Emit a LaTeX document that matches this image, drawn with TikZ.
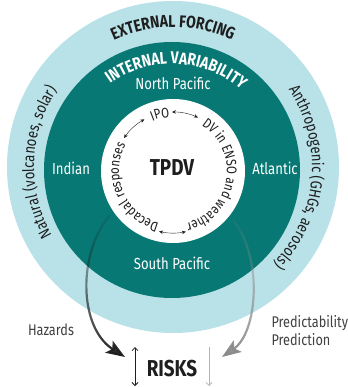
\documentclass[tikz,border=0pt]{standalone}
\usepackage{fontspec}
\setmainfont{Fira Sans}[FakeStretch=0.82]
\usetikzlibrary{arrows.meta, positioning, decorations.text, fadings}

\definecolor{ringblue}{HTML}{B9E1E8}
\definecolor{varteal}{HTML}{077873}
\definecolor{inkblack}{HTML}{1E1E1E}
\definecolor{predgray}{HTML}{8A8A8A}
\definecolor{palegray}{HTML}{B4B4B4}

\newcommand\forcefont{\fontsize{17}{20}\selectfont\bfseries}
\newcommand\sidefont{\fontsize{16}{19}\selectfont}
\newcommand\corefont{\fontsize{14}{16}\selectfont}

\tikzfading[name=fade in down, top color=transparent!90, middle color=transparent!25, bottom color=transparent!0]

\tikzstyle{ring} = [circle, inner sep=0pt, minimum size=#1]
\tikzstyle{region} = [text=white, font=\fontsize{16}{19}\selectfont]
\tikzstyle{sidelabel} = [text=inkblack!85, font=\fontsize{15.5}{18}\selectfont]
\tikzstyle{twoway} = [thin, inkblack, {Stealth[length=4pt, width=3.5pt]}-{Stealth[length=4pt, width=3.5pt]}]
\tikzstyle{bigarrow} = [line width=2.2pt, -{Stealth[length=19pt, width=14pt, inset=4pt]}, path fading=fade in down]
\tikzset{arctext/.style={decorate, decoration={text along path, text align=center, text color=inkblack, text={#1}}}}

\begin{document}
\begin{tikzpicture}[x=1pt, y=1pt]
        \useasboundingbox (-173,-220) rectangle (174,167);

        % --- anillos ---
        \node (outer) [ring=332pt, fill=ringblue] at (0,0) {};
        \node (mid) [ring=256pt, fill=varteal] at (-1,-3) {};
        \node (core) [ring=144pt, fill=white] at (0,-4) {};

        % --- textos curvos ---
        \path [arctext={|\forcefont|EXTERNAL FORCING}] (outer.center) ++(150:140pt) arc[start angle=150, end angle=30, radius=140pt];
        \path [arctext={|\sidefont|Natural (volcanoes, solar)}] (outer.center) ++(222:139pt) arc[start angle=222, end angle=134, radius=139pt];
        \path [arctext={|\sidefont|Anthropogenic (GHGs, aerosols)}] (outer.center) ++(50:139pt) arc[start angle=50, end angle=-60, radius=139pt];
        \path [arctext={|\forcefont|INTERNAL VARIABILITY}, decoration={text color=white}] (mid.center) ++(155:106pt) arc[start angle=155, end angle=20, radius=106pt];

        \path [arctext={|\corefont|IPO}] (core.center) ++(125:54pt) arc[start angle=125, end angle=81, radius=54pt];
        \path [arctext={|\corefont|DV in ENSO and weather}] (core.center) ++(80:54pt) arc[start angle=80, end angle=-98, radius=54pt];
        \path [arctext={|\corefont|Decadal responses}] (core.center) ++(266:54pt) arc[start angle=266, end angle=140, radius=54pt];

        % --- flechas del ciclo ---
        \draw [twoway] (core.center) ++(91:59pt) arc[start angle=91, end angle=65, radius=59pt];
        \draw [twoway] (core.center) ++(146:59pt) arc[start angle=146, end angle=119, radius=59pt];
        \draw [twoway] (core.center) ++(-103:62pt) arc[start angle=-103, end angle=-78, radius=62pt];

        % --- etiquetas ---
        \node (tpdv) [text=inkblack, font=\fontsize{23}{26}\selectfont\bfseries] at (-1,-1) {TPDV};
        \node (north) [region] at (0,84) {North Pacific};
        \node (south) [region] at (-1,-96) {South Pacific};
        \node (indian) [region] at (-102,-1) {Indian};
        \node (atlantic) [region] at (102,-1) {Atlantic};

        \node (risks) [text=inkblack, font=\fontsize{23}{26}\selectfont\bfseries] at (-1,-202) {RISKS};
        \node (hazards) [sidelabel] at (-122,-163) {Hazards};
        \node (pred) [sidelabel, align=left, anchor=west] at (95,-164) {Predictability\\Prediction};

        % --- flechas hacia RISKS ---
        \coordinate (hazStart) at (-63,-48);
        \coordinate (hazTip) at (-48,-190);
        \coordinate (predStart) at (60,-53);
        \coordinate (predTip) at (49,-190);
        \draw [bigarrow, inkblack] (hazStart) .. controls (-95,-85) and (-95,-160) .. (hazTip);
        \draw [bigarrow, predgray] (predStart) .. controls (90,-90) and (85,-165) .. (predTip);

        \coordinate (upTop) at (-38,-180);
        \coordinate (upBot) at (-38,-219);
        \coordinate (downTop) at (36,-180);
        \coordinate (downBot) at (36,-219);
        \draw [inkblack, line width=0.8pt, {Straight Barb[length=3pt, width=6pt]}-{Straight Barb[length=3pt, width=6pt]}] (upTop) -- (upBot);
        \draw [palegray, line width=0.8pt, -{Straight Barb[length=3pt, width=6pt]}] (downTop) -- (downBot);

    \end{tikzpicture}
\end{document}
